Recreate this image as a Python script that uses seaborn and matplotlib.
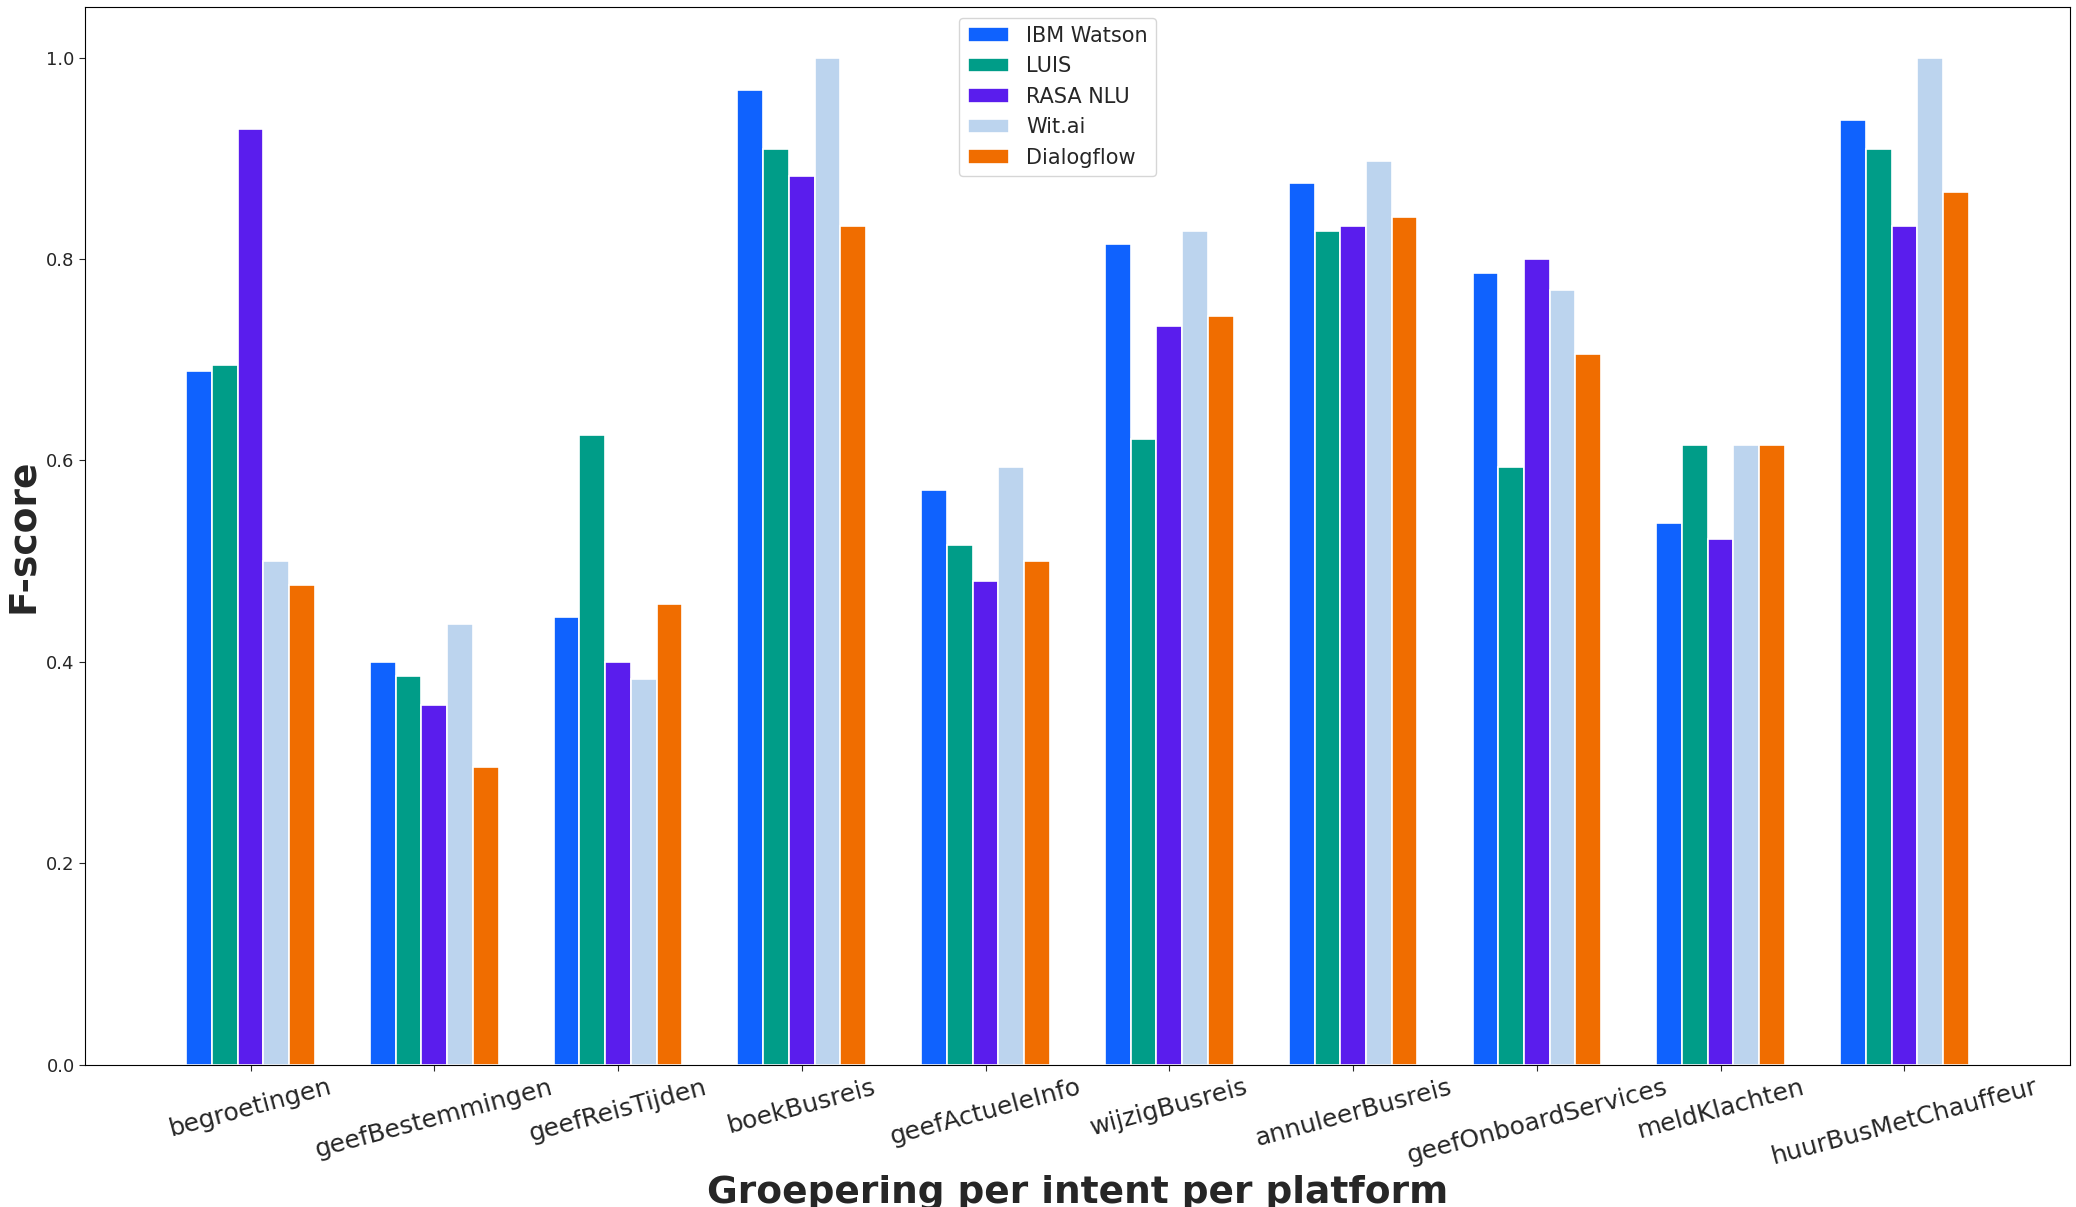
import matplotlib
matplotlib.use("Agg")
import matplotlib.pyplot as plt
import pandas as pd
import seaborn as sns

intents = ["begroetingen", "geefBestemmingen", "geefReisTijden", "boekBusreis",
           "geefActueleInfo", "wijzigBusreis", "annuleerBusreis",
           "geefOnboardServices", "meldKlachten", "huurBusMetChauffeur"]
platforms = ["IBM Watson", "LUIS", "RASA NLU", "Wit.ai", "Dialogflow"]
ibm = [0.689, 0.400, 0.444, 0.968, 0.571, 0.815, 0.875, 0.786, 0.538, 0.938]
luis = [0.695, 0.386, 0.625, 0.909, 0.516, 0.621, 0.828, 0.593, 0.615, 0.909]
rasa = [0.929, 0.357, 0.400, 0.882, 0.480, 0.733, 0.833, 0.800, 0.522, 0.833]
wit = [0.500, 0.438, 0.383, 1.000, 0.593, 0.828, 0.897, 0.769, 0.615, 1.000]
dialogflow = [0.476, 0.296, 0.457, 0.833, 0.500, 0.743, 0.842, 0.706, 0.615, 0.867]
colors = ["#0f62fe", "#009d88", "#5a1ded", "#bcd4ee", "#f06d00"]

rows = []
for name, vals in zip(platforms, [ibm, luis, rasa, wit, dialogflow]):
    for intent, v in zip(intents, vals):
        rows.append({"intent": intent, "platform": name, "score": v})
df = pd.DataFrame(rows)

sns.set_style("white")
fig = plt.figure(figsize=(20.76, 12.07), dpi=100)
ax = fig.add_axes([0.041, 0.118, 0.956, 0.876])
sns.barplot(data=df, x="intent", y="score", hue="platform", palette=colors,
            width=0.7, edgecolor="white", linewidth=1.2, saturation=1, ax=ax)
for s in ax.spines.values():
    s.set_color("black")
ax.set_ylim(0, 1.05)
ax.set_xlim(-0.9, 9.9)
ax.tick_params(axis="y", labelsize=13, left=True, length=4)
ax.tick_params(axis="x", labelsize=18, bottom=True, length=4)
plt.setp(ax.get_xticklabels(), rotation=15)
ax.set_xlabel("Groepering per intent per platform", fontsize=27, fontweight="bold")
ax.set_ylabel("F-score", fontsize=27, fontweight="bold")
ax.legend(loc="upper center", bbox_to_anchor=(0.49, 1.0), fontsize=15,
          frameon=True, edgecolor="#cccccc")
fig.savefig("out.png", dpi=100)
